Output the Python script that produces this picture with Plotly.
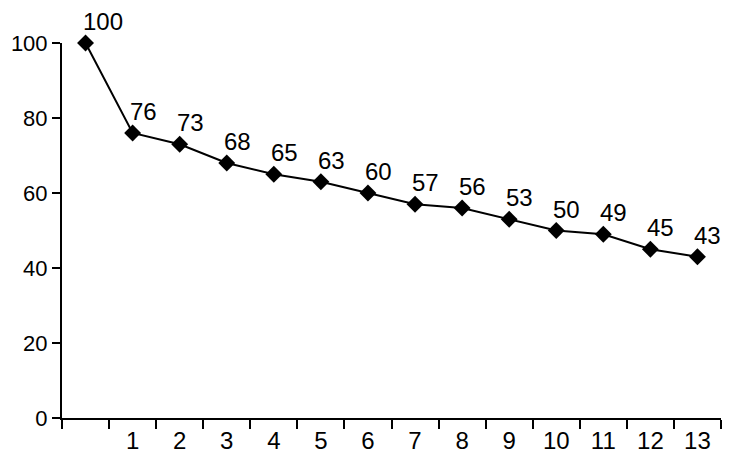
import plotly.graph_objects as go

# categories (first one has no label)
categories = [" ", "1", "2", "3", "4", "5", "6", "7", "8", "9", "10", "11", "12", "13"]
values = [100, 76, 73, 68, 65, 63, 60, 57, 56, 53, 50, 49, 45, 43]
y_ticks = [0, 20, 40, 60, 80, 100]

FONT = "Liberation Sans"
FSIZE = 24

fig = go.Figure(
    go.Scatter(
        x=categories,
        y=values,
        mode="lines+markers",
        line=dict(color="black", width=2),
        marker=dict(symbol="diamond", size=13, color="black"),
        cliponaxis=False,
    )
)

# value labels, up and to the right of each point
for c, v in zip(categories, values):
    fig.add_annotation(
        x=c, y=v, text=str(v), showarrow=False,
        xanchor="left", yanchor="bottom", xshift=-5, yshift=6,
        font=dict(family=FONT, size=FSIZE, color="black"),
    )

# page body has an 8px default margin, so the figure is sized to fit the window
fig.update_layout(
    width=722,
    height=459,
    margin=dict(l=54, r=9, t=35, b=49),
    paper_bgcolor="white",
    plot_bgcolor="white",
    showlegend=False,
    font=dict(family=FONT, size=FSIZE, color="black"),
)
fig.update_xaxes(
    type="category",
    tickson="boundaries",
    ticks="outside",
    ticklen=9,
    tickwidth=2,
    tickcolor="black",
    showline=True,
    linewidth=2,
    linecolor="black",
    showgrid=False,
    range=[-0.5, 13.5],
    automargin=False,
    tickfont=dict(family=FONT, size=FSIZE),
)
fig.update_yaxes(
    range=[0, 100],
    tickvals=y_ticks,
    ticks="outside",
    ticklen=8,
    tickwidth=2,
    tickcolor="black",
    showline=True,
    linewidth=2,
    linecolor="black",
    showgrid=False,
    zeroline=False,
    automargin=False,
    tickfont=dict(family=FONT, size=22),
)

fig.write_html("out.html")
